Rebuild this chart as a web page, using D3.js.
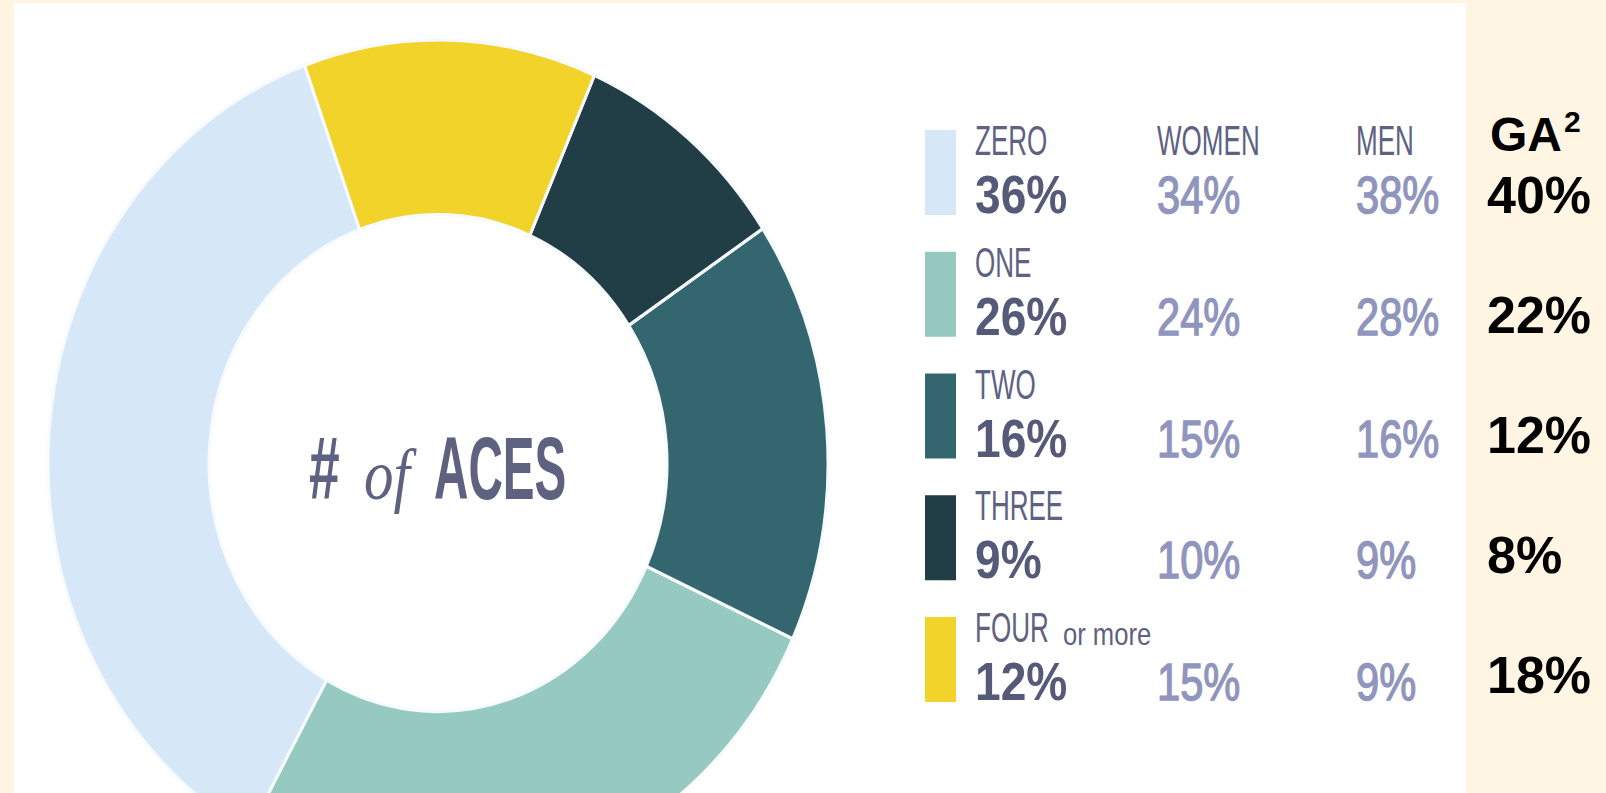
<!DOCTYPE html>
<html>
  <head>
    <title># of ACES</title>
    <script src="https://d3js.org/d3.v7.min.js"></script>
    <style>
      body { margin: 0; background: #fff5e2; }
      svg { display: block; }
    </style>
  </head>
  <body>
    <svg width="1606" height="793"></svg>
    <script>
      // legend order, top to bottom
      const categories = ["ZERO", "ONE", "TWO", "THREE", "FOUR"];
      const suffixes = ["", "", "", "", "or more"];
      const overall = [36, 26, 16, 9, 12];
      const women = [34, 24, 15, 10, 15];
      const men = [38, 28, 16, 9, 9];
      const ga2 = [40, 22, 12, 8, 18];
      const colors = ["#d6e8f8", "#96c9bf", "#33666e", "#213d46", "#f2d32a"];
      const columnHeads = ["WOMEN", "MEN"];
      const gaHead = "GA";

      const svg = d3.select("svg");
      const sans = "'Liberation Sans', Arial, sans-serif";
      const dark = "#565a79";
      const light = "#9095bd";

      // white photo panel
      svg.append("rect")
        .attr("x", 14).attr("y", 3)
        .attr("width", 1452).attr("height", 790)
        .attr("fill", "#ffffff");

      // donut (slightly taller than wide, like the photo)
      const cx = 438, cy = 463;
      const deg = Math.PI / 180;
      const pie = d3.pie().sort(null)
        .startAngle(340 * deg)
        .endAngle(-20 * deg);
      const arc = d3.arc().innerRadius(229).outerRadius(390);

      const donut = svg.append("g")
        .attr("transform", `translate(${cx},${cy}) scale(1,1.085)`);

      donut.selectAll("path")
        .data(pie(overall))
        .join("path")
          .attr("d", arc)
          .attr("fill", (d, i) => colors[i])
          .attr("stroke", "#f7fbff")
          .attr("stroke-width", 3);

      // centre title
      const title = svg.append("g");
      title.append("text")
        .attr("transform", "translate(309,499) scale(0.62,1)")
        .attr("font-family", sans).attr("font-weight", "bold")
        .attr("font-size", 89).attr("fill", "#5e6180")
        .text("#");
      title.append("text")
        .attr("transform", "translate(364,499) scale(0.82,1)")
        .attr("font-family", "'Liberation Serif', 'DejaVu Serif', serif")
        .attr("font-style", "italic")
        .attr("font-size", 72).attr("fill", "#5e6180")
        .text("of");
      title.append("text")
        .attr("transform", "translate(434,499) scale(0.535,1)")
        .attr("font-family", sans).attr("font-weight", "bold")
        .attr("font-size", 89).attr("fill", "#5e6180")
        .text("ACES");

      // legend table
      const rowY = d3.scaleLinear().domain([0, 4]).range([213, 700]);
      const gaY = d3.scaleLinear().domain([0, 4]).range([213, 693]);
      const colX = d3.scaleOrdinal().domain(["bar", "label", "women", "men", "ga"])
        .range([925, 975, 1157, 1356, 1487]);

      const idx = d3.range(categories.length);

      const legend = svg.append("g");

      legend.selectAll("rect")
        .data(idx)
        .join("rect")
          .attr("x", colX("bar"))
          .attr("y", i => rowY(i) - 83)
          .attr("width", 31)
          .attr("height", 85)
          .attr("fill", i => colors[i]);

      // condensed labels
      const labelText = (x, y, s, size, fill, sx) =>
        legend.append("text")
          .attr("transform", `translate(${x},${y}) scale(${sx},1)`)
          .attr("font-family", sans)
          .attr("font-size", size)
          .attr("fill", fill)
          .text(s);

      idx.forEach(i => {
        labelText(colX("label"), rowY(i) - 58, categories[i], 42, "#5e6282", 0.62);
        if (suffixes[i]) {
          labelText(1063, rowY(i) - 55, suffixes[i], 32, "#5e6282", 0.8);
        }
        labelText(colX("label"), rowY(i), overall[i] + "%", 53, dark, 0.87)
          .attr("font-weight", "bold");
        // medium weight: regular glyphs with a thin outline
        labelText(colX("women"), rowY(i), women[i] + "%", 52, light, 0.8)
          .attr("stroke", light).attr("stroke-width", 1.4);
        labelText(colX("men"), rowY(i), men[i] + "%", 52, light, 0.8)
          .attr("stroke", light).attr("stroke-width", 1.4);
      });

      labelText(colX("women"), rowY(0) - 58, columnHeads[0], 42, "#5e6282", 0.62);
      labelText(colX("men"), rowY(0) - 58, columnHeads[1], 42, "#5e6282", 0.62);

      // GA² column on the cream margin
      const ga = svg.append("g")
        .attr("font-family", sans)
        .attr("font-weight", "bold")
        .attr("fill", "#000000");

      const head = ga.append("text")
        .attr("x", 1490).attr("y", 151)
        .attr("font-size", 48)
        .text(gaHead);
      head.append("tspan")
        .attr("dx", 2).attr("dy", -19)
        .attr("font-size", 30)
        .text("2");

      ga.selectAll("text.val")
        .data(idx)
        .join("text")
          .attr("class", "val")
          .attr("x", colX("ga"))
          .attr("y", i => gaY(i))
          .attr("font-size", 52)
          .text(i => ga2[i] + "%");
    </script>
  </body>
</html>
